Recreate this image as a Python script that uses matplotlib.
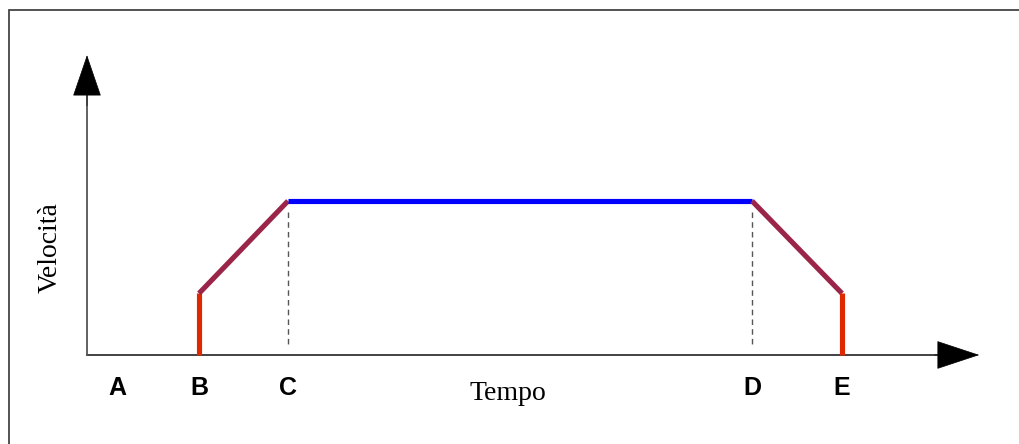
import matplotlib.pyplot as plt
from matplotlib.patches import Rectangle

# istanti (A..E) e velocita' (unita' arbitrarie)
labels = ["A", "B", "C", "D", "E"]
t_pts = [0.30, 1.12, 2.01, 6.65, 7.55]
v_low = 0.40
v_high = 1.00

fig = plt.figure(figsize=(10.19, 4.44), dpi=100)
ax = fig.add_axes([0, 0, 1, 1])
ax.set_xlim(-0.87, 9.32)
ax.set_ylim(-0.578, 2.305)
ax.axis("off")

# cornice
fig.patches.append(Rectangle((8.5 / 1019, -0.1), 2, 1.1 - 10.5 / 444,
                             transform=fig.transFigure, fill=False,
                             ec="#444444", lw=1.3))

# assi con frecce
ax.plot([0, 8.5], [0, 0], color="#333333", lw=1.3, zorder=2)
ax.plot([0, 0], [0, 1.7], color="#555555", lw=1.3, zorder=2)
ax.annotate("", xy=(8.95, 0), xytext=(8.45, 0),
            arrowprops=dict(arrowstyle="-|>,head_length=1.45,head_width=0.48",
                            mutation_scale=20, fc="black", ec="black", lw=0.5))
ax.annotate("", xy=(0, 1.965), xytext=(0, 1.6),
            arrowprops=dict(arrowstyle="-|>,head_length=1.4,head_width=0.48",
                            mutation_scale=20, fc="black", ec="black", lw=0.5))

tA, tB, tC, tD, tE = t_pts

# linee tratteggiate
for t in [tC, tD]:
    ax.plot([t, t], [v_high - 0.07, 0.05], color="#555555", lw=1,
            linestyle=(0, (4, 3)), zorder=1)

lw = 3.7
ax.plot([tB, tB], [0, v_low], color="#e02800", lw=lw, solid_capstyle="butt", zorder=3)
ax.plot([tB, tC], [v_low, v_high], color="#9b2548", lw=lw, solid_capstyle="butt", zorder=3)
ax.plot([tC, tD], [v_high, v_high], color="#0000ff", lw=lw, solid_capstyle="butt", zorder=3)
ax.plot([tD, tE], [v_high, v_low], color="#9b2548", lw=lw, solid_capstyle="butt", zorder=3)
ax.plot([tE, tE], [v_low, 0], color="#e02800", lw=lw, solid_capstyle="butt", zorder=3)

for lab, t in zip(labels, t_pts):
    ax.text(t, -0.215, lab, ha="center", va="center", fontsize=18,
            fontweight="bold", family="Liberation Sans")

ax.text(4.21, -0.25, "Tempo", ha="center", va="center", fontsize=20,
        family="Liberation Serif")
ax.text(-0.37, 0.695, "Velocità", ha="center", va="center", fontsize=20,
        rotation=90, family="Liberation Serif")

plt.savefig("out.png", dpi=100)
